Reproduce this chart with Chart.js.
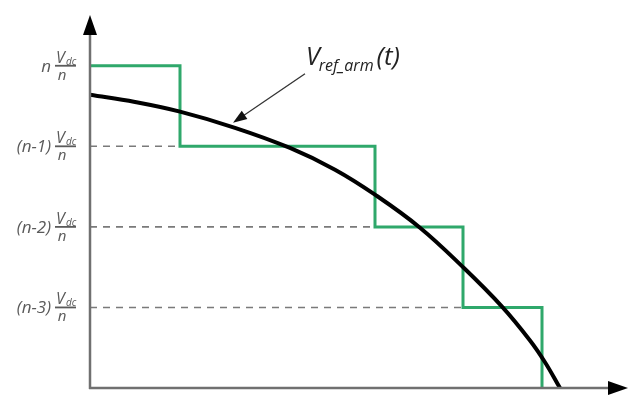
<!DOCTYPE html>
<html>
<head>
<meta charset="utf-8">
<script src="https://cdn.jsdelivr.net/npm/chart.js@4"></script>
<style>
  html, body { margin: 0; padding: 0; background: #fff; }
  #wrap { width: 633px; height: 399px; }
</style>
</head>
<body>
<div id="wrap"><canvas id="c" width="633" height="399"></canvas></div>
<script>
// Reference arm voltage (time, level in units of Vdc/n)
const refTime  = [0, 45, 90, 145, 200, 245, 285, 330, 373, 412, 440, 455, 470];
const refLevel = [3.64, 3.55, 3.43, 3.23, 2.98, 2.71, 2.40, 1.99, 1.50, 1.01, 0.59, 0.32, 0];

// Staircase output: switching instants and levels between them
const stepTime  = [0, 90, 285, 373, 452];
const stepLevel = [4, 3, 2, 1, 0];

// Voltage levels and their labels on the vertical axis
const levelValues  = [4, 3, 2, 1];
const levelPrefix  = ['n', '(n-1)', '(n-2)', '(n-3)'];

// Point of the reference curve picked out by the annotation arrow
const markIndex = 3;

const X_MAX = 538;
const Y_MAX = 4.63;

// horizontal segment of each level runs until the next switching instant
const stairData = [];
for (let i = 0; i < stepTime.length - 1; i++) {
  stairData.push({ x: stepTime[i], y: stepLevel[i] });
  stairData.push({ x: stepTime[i + 1], y: stepLevel[i] });
}
stairData.push({ x: stepTime[stepTime.length - 1], y: 0 });

const curveData = refTime.map((t, i) => ({ x: t, y: refLevel[i] }));

// Dashed guides from the axis to the start of each lower level
const guideSets = [];
for (let i = 1; i < stepLevel.length - 1; i++) {
  guideSets.push({
    data: [{ x: 0, y: stepLevel[i] }, { x: stepTime[i], y: stepLevel[i] }],
    borderColor: '#7a7a7a',
    borderWidth: 1.6,
    borderDash: [7, 6],
    pointRadius: 0,
    order: 3
  });
}

function arrowHead(ctx, x, y, angle, len, half) {
  ctx.save();
  ctx.translate(x, y);
  ctx.rotate(angle);
  ctx.beginPath();
  ctx.moveTo(0, 0);
  ctx.lineTo(-len, -half);
  ctx.lineTo(-len, half);
  ctx.closePath();
  ctx.fill();
  ctx.restore();
}

const decorations = {
  id: 'decorations',
  afterDatasetsDraw(chart) {
    const ctx = chart.ctx;
    const xs = chart.scales.x, ys = chart.scales.y;
    const x0 = xs.getPixelForValue(0);
    const y0 = ys.getPixelForValue(0);
    const xEnd = xs.getPixelForValue(X_MAX);
    const yTop = ys.getPixelForValue(Y_MAX);

    // axes
    ctx.save();
    ctx.strokeStyle = '#707070';
    ctx.lineWidth = 2.5;
    ctx.beginPath();
    ctx.moveTo(x0, y0 + 1);
    ctx.lineTo(x0, yTop + 12);
    ctx.moveTo(x0 - 1, y0);
    ctx.lineTo(xEnd - 14, y0);
    ctx.stroke();
    ctx.fillStyle = '#000';
    arrowHead(ctx, x0, yTop, -Math.PI / 2, 20, 7);
    arrowHead(ctx, xEnd, y0, 0, 20, 7);
    ctx.restore();

    // level labels: prefix followed by Vdc / n
    ctx.save();
    ctx.fillStyle = '#5a5a5a';
    ctx.strokeStyle = '#5a5a5a';
    ctx.textBaseline = 'alphabetic';
    levelValues.forEach((v, i) => {
      const yp = ys.getPixelForValue(v);
      const fracL = 55, fracR = 76;
      // fraction bar
      ctx.lineWidth = 1.8;
      ctx.beginPath();
      ctx.moveTo(fracL, yp);
      ctx.lineTo(fracR, yp);
      ctx.stroke();
      // numerator V with subscript dc
      ctx.textAlign = 'left';
      ctx.font = 'italic 16px "Open Sans"';
      ctx.fillText('V', fracL + 1, yp - 3);
      ctx.font = 'italic 10px "Open Sans"';
      ctx.fillText('dc', fracL + 11, yp - 1);
      // denominator
      ctx.font = 'italic 15px "Open Sans"';
      ctx.textAlign = 'center';
      ctx.fillText('n', fracL + 7, yp + 14);
      // prefix
      ctx.textAlign = 'right';
      ctx.font = 'italic 17px "Open Sans"';
      ctx.fillText(levelPrefix[i], fracL - 4, yp + 6);
    });
    ctx.restore();

    // annotation of the reference curve
    const tipX = xs.getPixelForValue(refTime[markIndex]) - 2;
    const tipY = ys.getPixelForValue(refLevel[markIndex]) - 5;
    const tailX = tipX + 72, tailY = tipY - 49;
    ctx.save();
    ctx.strokeStyle = '#333';
    ctx.fillStyle = '#111';
    ctx.lineWidth = 1.3;
    const ang = Math.atan2(tipY - tailY, tipX - tailX);
    ctx.beginPath();
    ctx.moveTo(tailX, tailY);
    ctx.lineTo(tipX - 12 * Math.cos(ang), tipY - 12 * Math.sin(ang));
    ctx.stroke();
    arrowHead(ctx, tipX, tipY, ang, 14, 5);

    ctx.fillStyle = '#222';
    ctx.textAlign = 'left';
    ctx.textBaseline = 'alphabetic';
    const lx = tailX + 1, ly = tailY - 9;
    ctx.font = 'italic 25px "Open Sans"';
    ctx.fillText('V', lx, ly);
    let w = ctx.measureText('V').width;
    ctx.font = 'italic 16px "Open Sans"';
    ctx.fillText('ref_arm', lx + w - 1, ly + 6);
    w += ctx.measureText('ref_arm').width;
    ctx.font = 'italic 26px "Open Sans"';
    ctx.fillText('(t)', lx + w + 2, ly);
    ctx.restore();
  }
};

new Chart(document.getElementById('c'), {
  type: 'line',
  data: {
    datasets: [
      {
        data: curveData,
        borderColor: '#000',
        borderWidth: 4,
        pointRadius: 0,
        tension: 0.4,
        order: 1
      },
      {
        data: stairData,
        borderColor: '#2fa86b',
        borderWidth: 3,
        pointRadius: 0,
        tension: 0,
        order: 2
      },
      ...guideSets
    ]
  },
  options: {
    responsive: false,
    animation: false,
    events: [],
    layout: { padding: { left: 90, right: 5, top: 15, bottom: 11 } },
    plugins: { legend: { display: false }, tooltip: { enabled: false } },
    scales: {
      x: { type: 'linear', min: 0, max: X_MAX, display: false },
      y: { type: 'linear', min: 0, max: Y_MAX, display: false }
    }
  },
  plugins: [decorations]
});
</script>
</body>
</html>
